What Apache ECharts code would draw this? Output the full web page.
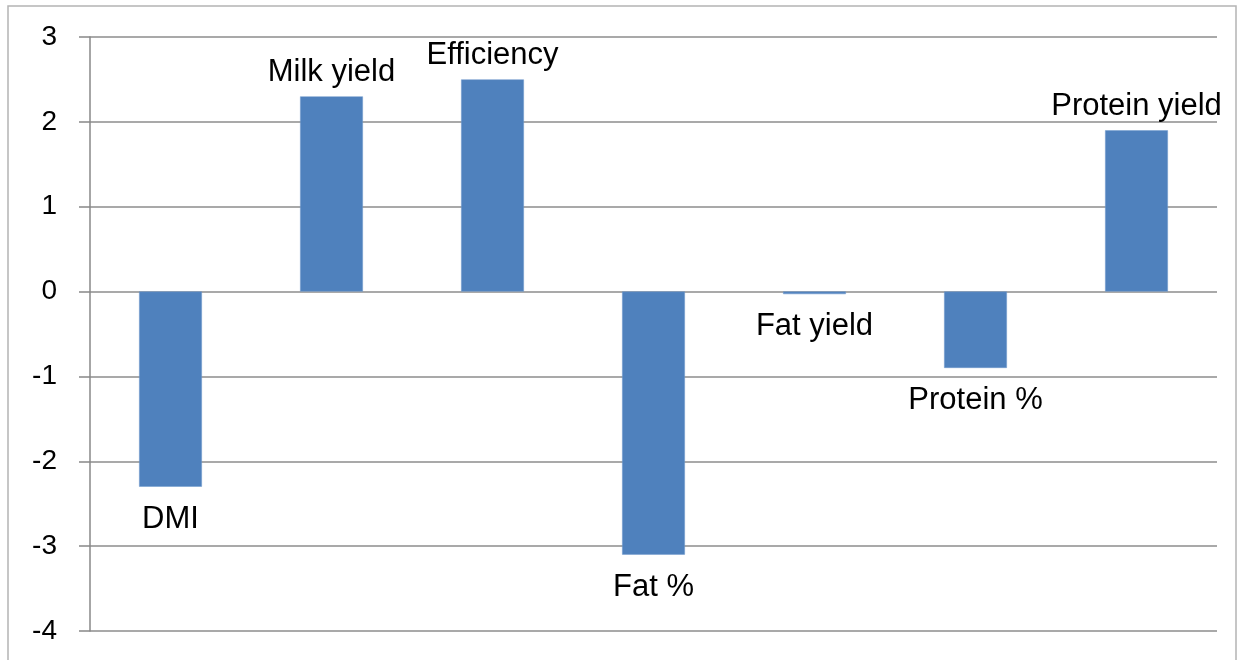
<!DOCTYPE html>
<html>
<head>
<meta charset="utf-8">
<script src="https://cdn.jsdelivr.net/npm/echarts@6/dist/echarts.min.js"></script>
<style>
  html, body { margin: 0; padding: 0; background: #fff; }
  #chart { width: 1238px; height: 660px; }
</style>
</head>
<body>
<div id="chart"></div>
<script>
// Trait names and their values
const categories = ['DMI', 'Milk yield', 'Efficiency', 'Fat %', 'Fat yield', 'Protein %', 'Protein yield'];
const values = [-2.3, 2.3, 2.5, -3.1, -0.03, -0.9, 1.9];
const yTicks = [-4, -3, -2, -1, 0, 1, 2, 3];

const FONT = 'Liberation Sans';

// Name labels sit above positive bars and below negative ones
const barData = values.map(v => ({
  value: v,
  label: v >= 0
    ? { position: 'top', distance: 8 }
    : { position: 'bottom', distance: 17 }
}));

const chart = echarts.init(document.getElementById('chart'), null, { renderer: 'canvas' });

chart.setOption({
  animation: false,
  backgroundColor: '#ffffff',
  graphic: [{
    type: 'rect',
    shape: { x: 8, y: 6, width: 1228, height: 670 },
    style: { fill: 'none', stroke: '#b4b4b4', lineWidth: 1.5 },
    silent: true
  }],
  grid: { left: 90, right: 21, top: 37, bottom: 29, containLabel: false },
  xAxis: {
    type: 'category',
    data: categories,
    axisLine: { show: false },
    axisTick: { show: false },
    axisLabel: { show: false },
    splitLine: { show: false }
  },
  yAxis: {
    type: 'value',
    min: yTicks[0],
    max: yTicks[yTicks.length - 1],
    interval: 1,
    axisLine: { show: true, lineStyle: { color: '#888888', width: 1.5 } },
    axisTick: { show: true, length: 11, lineStyle: { color: '#888888', width: 1.5 } },
    axisLabel: {
      margin: 33,
      color: '#000000',
      fontFamily: FONT,
      fontSize: 28
    },
    splitLine: { show: true, lineStyle: { color: '#8c8c8c', width: 1.5 } }
  },
  series: [{
    type: 'bar',
    data: barData,
    barCategoryGap: '61%',
    itemStyle: { color: '#4F81BD', borderColor: '#6f99cc', borderWidth: 0.5 },
    label: {
      show: true,
      formatter: '{b}',
      color: '#000000',
      fontFamily: FONT,
      fontSize: 31
    }
  }]
});
</script>
</body>
</html>
